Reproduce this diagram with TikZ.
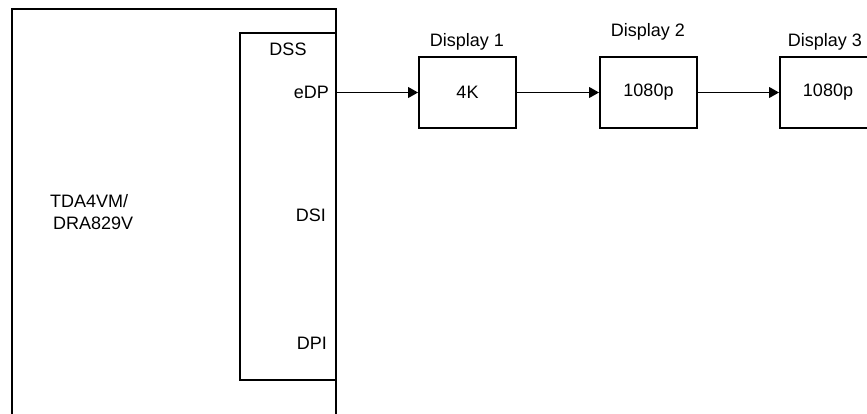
\documentclass[tikz,border=0pt]{standalone}
\usepackage{fontspec}
\setmainfont{Liberation Sans}
\usetikzlibrary{arrows.meta}
\begin{document}
\begin{tikzpicture}[x=1pt,y=-1pt,
  lbl/.style={font=\fontsize{18}{20}\selectfont, inner sep=0pt},
  dispbox/.style={draw, line width=2pt, minimum width=97pt, minimum height=71pt, inner sep=0pt, font=\fontsize{18}{20}\selectfont},
  conn/.style={line width=1pt, -{Triangle[length=10pt,width=11pt]}}]
\clip (0,0) rectangle (867,413);
\fill[white] (0,0) rectangle (867,413);
% outer SoC box (open at bottom)
\draw[line width=2pt] (12,420) -- (12,9) -- (336,9) -- (336,420);
\node[lbl, anchor=west] (soc1) at (50,201) {TDA4VM/};
\node[lbl, anchor=west] (soc2) at (53,223) {DRA829V};
% DSS box
\node[draw, line width=2pt, minimum width=96pt, minimum height=347pt, inner sep=0pt] (dss) at (288,206.5) {};
\node[lbl] (dsst) at (288,49) {DSS};
\node[lbl, anchor=east] (edp) at (329,92) {eDP};
\node[lbl, anchor=east] (dsi) at (326,215) {DSI};
\node[lbl, anchor=east] (dpi) at (327,343) {DPI};
\coordinate (edpout) at (337,92.5);
% displays
\node[dispbox] (d1) at (467.5,92.5) {4K};
\node[dispbox] (d2) at (648.5,92.5) {1080p};
\node[dispbox] (d3) at (828.5,92.5) {};
\node[lbl] (d3t) at (828,92) {1080p};
\node[lbl] (d1l) at (467,42) {Display 1};
\node[lbl] (d2l) at (648,32) {Display 2};
\node[lbl] (d3l) at (825,42) {Display 3};
% connectors
\draw[conn] (edpout) -- (d1.west);
\draw[conn] (d1.east) -- (d2.west);
\draw[conn] (d2.east) -- (d3.west);
\end{tikzpicture}
\end{document}
